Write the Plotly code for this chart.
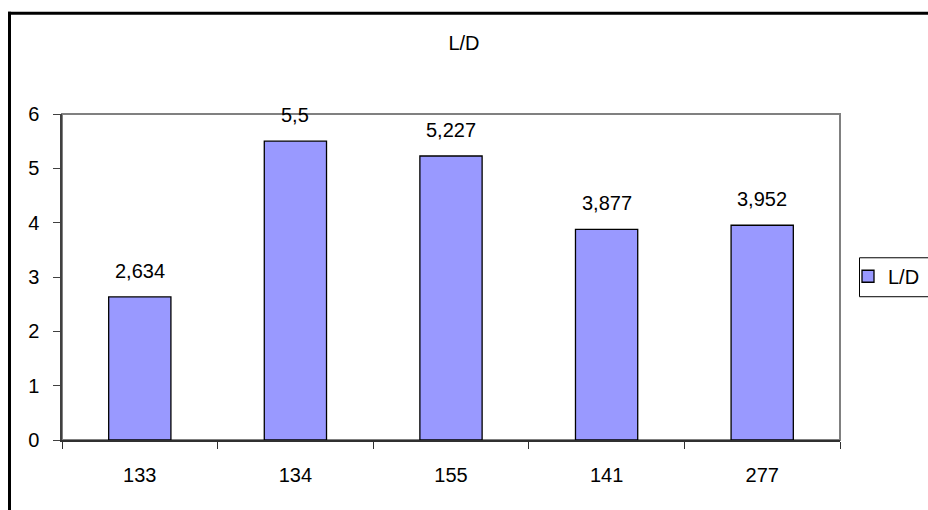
import plotly.graph_objects as go

categories = ["133", "134", "155", "141", "277"]
ld_values = [2.634, 5.5, 5.227, 3.877, 3.952]
value_labels = ["2,634", "5,5", "5,227", "3,877", "3,952"]
y_ticks = [0, 1, 2, 3, 4, 5, 6]

FONT = "Liberation Sans, Arial, sans-serif"
FS = 20
W, H = 928, 510
ML, MR, MT, MB = 62, 88, 113.5, 70
PW = W - ML - MR
PH = H - MT - MB


def px_x(p):
    return (p - ML) / PW


def px_y(p):
    return (H - MB - p) / PH


fig = go.Figure()
fig.add_trace(go.Bar(
    x=categories,
    y=ld_values,
    name="L/D",
    marker=dict(color="#9999FF", line=dict(color="black", width=1.3)),
))

# value labels above each bar (category axis positions are serial indices)
for i, (v, t) in enumerate(zip(ld_values, value_labels)):
    fig.add_annotation(x=i, y=v, text=t, showarrow=False, xref="x", yref="y",
                       yanchor="bottom", yshift=13,
                       font=dict(family=FONT, size=FS, color="black"))

shapes = [
    # plot area frame (top & right)
    dict(type="rect", xref="paper", yref="paper", x0=0, x1=1, y0=0, y1=1,
         line=dict(color="#808080", width=2), layer="below"),
    # legend box
    dict(type="rect", xref="paper", yref="paper", x0=px_x(859.5), x1=px_x(940),
         y0=px_y(296.5), y1=px_y(257.5), line=dict(color="black", width=1)),
    # outer chart border (left & top)
    dict(type="line", xref="paper", yref="paper", x0=px_x(9.5), x1=px_x(9.5),
         y0=px_y(11), y1=px_y(515), line=dict(color="black", width=3)),
    dict(type="line", xref="paper", yref="paper", x0=px_x(8), x1=px_x(935),
         y0=px_y(12.5), y1=px_y(12.5), line=dict(color="black", width=3)),
]

fig.update_layout(
    width=W, height=H,
    margin=dict(l=ML, r=MR, t=MT, b=MB, pad=0, autoexpand=False),
    paper_bgcolor="white", plot_bgcolor="white",
    font=dict(family=FONT, size=FS, color="black"),
    title=dict(text="L/D", x=0.5, xref="container", xanchor="center",
               y=1 - 43 / H, yref="container", yanchor="middle",
               font=dict(family=FONT, size=FS, color="black")),
    bargap=0.6,
    showlegend=True,
    legend=dict(x=px_x(848), y=px_y(276), xanchor="left", yanchor="middle",
                borderwidth=0, bgcolor="rgba(0,0,0,0)",
                font=dict(family=FONT, size=FS, color="black"),
                itemwidth=30, tracegroupgap=0),
    shapes=shapes,
    xaxis=dict(type="category", range=[-0.5, 4.5], showgrid=False, zeroline=False,
               showline=True, linecolor="#303030", linewidth=1.5,
               ticks="outside", tickson="boundaries", ticklen=7,
               tickcolor="#303030", ticklabelstandoff=16,
               tickfont=dict(family=FONT, size=FS, color="black")),
    yaxis=dict(range=[0, 6], tickvals=y_ticks, showgrid=False, zeroline=False,
               showline=True, linecolor="#404040", linewidth=1.5,
               ticks="outside", ticklen=7, tickcolor="#404040",
               ticklabelstandoff=10,
               tickfont=dict(family=FONT, size=FS, color="black")),
)

fig.write_html("out.html")
